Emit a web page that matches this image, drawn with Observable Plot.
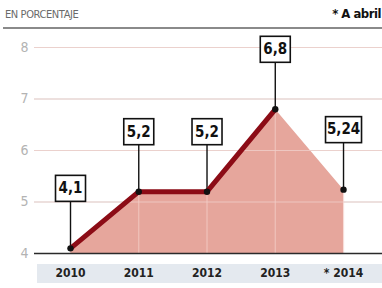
<!DOCTYPE html>
<html>
<head>
<meta charset="utf-8">
<script src="https://cdn.jsdelivr.net/npm/d3@7"></script>
<script src="https://cdn.jsdelivr.net/npm/@observablehq/plot@0.6"></script>
<style>
  html, body { margin: 0; padding: 0; background: #fff; }
  body { width: 382px; height: 288px; overflow: hidden; position: relative;
         font-family: "DejaVu Sans Condensed", "DejaVu Sans", sans-serif; font-stretch: condensed; }
  #head { position: absolute; left: 0; top: 0; width: 382px; height: 30px; }
  #head .t { position: absolute; left: 5px; top: 8px; font-size: 11px; color: #6a6a6a; letter-spacing: -0.4px; }
  #head .n { position: absolute; right: 1px; top: 6px; font-size: 13px; font-weight: bold; color: #111; letter-spacing: -0.5px; }
  #head .u { position: absolute; left: 3px; right: 0; top: 27px; height: 0; border-top: 2px solid #8a8a8a; }
  #band { position: absolute; left: 37px; right: 0; top: 264px; height: 19px; background: #e4e9ef; }
  #chart { position: absolute; left: 0; top: 30px; }
  #chart svg text { font-stretch: condensed; }
</style>
</head>
<body>
<div id="head"><span class="t">EN PORCENTAJE</span><span class="n">* A abril</span><div class="u"></div></div>
<div id="band"></div>
<div id="chart"></div>
<script>
const years = [2010, 2011, 2012, 2013, 2014];
const values = [4.1, 5.2, 5.2, 6.8, 5.24];
const labels = ["4,1", "5,2", "5,2", "6,8", "5,24"];
const xTickLabels = ["2010", "2011", "2012", "2013", "* 2014"];
const yTicks = [4, 5, 6, 7, 8];

const data = years.map((y, i) => ({year: y, value: values[i], label: labels[i]}));
const lineData = data.filter(d => d.year <= 2013);

const boxed = (index, scales, vals, dims, ctx, next) => {
  const g = next(index, scales, vals, dims, ctx);
  const ns = "http://www.w3.org/2000/svg";
  for (const i of index) {
    const txt = vals.text ? vals.text[i] : data[i].label;
    const w = 6 * String(txt).length + 12, h = 26;
    const r = document.createElementNS(ns, "rect");
    r.setAttribute("x", vals.x[i] - w / 2);
    r.setAttribute("y", vals.y[i] - h / 2);
    r.setAttribute("width", w);
    r.setAttribute("height", h);
    r.setAttribute("fill", "white");
    r.setAttribute("stroke", "#111");
    r.setAttribute("stroke-width", 1.6);
    g.insertBefore(r, g.firstChild);
  }
  return g;
};

const chart = Plot.plot({
  width: 382,
  height: 258,
  marginTop: 17,
  marginBottom: 35,
  marginLeft: 34,
  marginRight: 0,
  style: {background: "transparent", fontFamily: "\"DejaVu Sans Condensed\", \"DejaVu Sans\", sans-serif"},
  x: {type: "linear", domain: [2009.4725, 2014.571]},
  y: {domain: [4, 8]},
  marks: [
    Plot.gridY(yTicks, {stroke: "#d8d8d8", strokeOpacity: 1}),
    Plot.areaY(data, {x: "year", y1: 4, y2: "value", fill: "#e6a69c"}),
    Plot.gridY(yTicks, {stroke: "#f0d0ca", strokeOpacity: 0.8}),
    Plot.ruleX(data, {x: "year", y1: 4, y2: "value", stroke: "#f3cfc8", strokeOpacity: 0.7, strokeWidth: 1.2}),
    Plot.ruleY([4], {stroke: "#2a2a2a", strokeWidth: 1.6}),
    Plot.ruleX(data, {x: "year", y1: "value", y2: "value", insetTop: -47, stroke: "#111", strokeWidth: 1.4}),
    Plot.line(lineData, {x: "year", y: "value", stroke: "#8c0c16", strokeWidth: 5, strokeLinejoin: "round"}),
    Plot.dot(data, {x: "year", y: "value", r: 3.2, fill: "#111"}),
    Plot.text(data, {x: "year", y: "value", text: "label", dy: -60, fontSize: 15, fontWeight: "bold", fill: "#111", render: boxed}),
    Plot.axisY(yTicks, {tickSize: 0, tickPadding: 6, fontSize: 14, color: "#b3b3b3", label: null, tickFormat: d => String(d)}),
    Plot.axisX(years, {tickSize: 0, tickPadding: 15, fontSize: 12, fontWeight: "bold", color: "#222", label: null,
      tickFormat: (d) => xTickLabels[years.indexOf(d)]})
  ]
});
document.getElementById("chart").appendChild(chart);
</script>
</body>
</html>
